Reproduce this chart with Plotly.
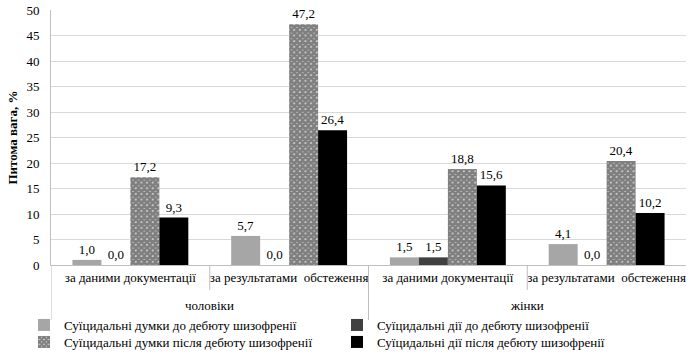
import plotly.graph_objects as go

inner_labels = ["за даними документації", "за результатами  обстеження",
                "за даними документації", "за результатами  обстеження"]
outer_labels = ["чоловіки", "жінки"]
series_names = [
    "Суїцидальні думки до дебюту шизофренії",
    "Суїцидальні дії до дебюту шизофренії",
    "Суїцидальні думки після дебюту шизофренії",
    "Суїцидальні дії після дебюту шизофренії",
]
thoughts_before = [1.0, 5.7, 1.5, 4.1]
actions_before = [0.0, 0.0, 1.5, 0.0]
thoughts_after = [17.2, 47.2, 18.8, 20.4]
actions_after = [9.3, 26.4, 15.6, 10.2]
y_ticks = [0, 5, 10, 15, 20, 25, 30, 35, 40, 45, 50]

FONT = "Times New Roman, Liberation Serif, serif"
W, H = 695, 358
xpos = list(range(len(inner_labels)))

def fmt(v):
    return f"{v:.1f}".replace(".", ",")

fig = go.Figure()
styles = [
    dict(color="#a6a6a6"),
    dict(color="#404040"),
    dict(color="white", pattern=dict(shape="x", fgcolor="black", bgcolor="white", size=4, solidity=0.9)),
    dict(color="black"),
]
legend_ids = ["legend", "legend", "legend2", "legend2"]
for name, vals, st, lg in zip(series_names, [thoughts_before, actions_before, thoughts_after, actions_after],
                              styles, legend_ids):
    fig.add_trace(go.Bar(
        x=xpos, y=vals, name=name, legend=lg,
        marker=dict(**st, line=dict(width=0)),
        text=[fmt(v) for v in vals], textposition="outside",
        textfont=dict(family=FONT, size=13, color="black"),
        cliponaxis=False,
    ))

# dividers
line_col = "#bfbfbf"
shapes = []
for xv, depth in [(0.5, -0.098), (2.5, -0.098), (1.5, -0.216), (-0.5, -0.216)]:
    shapes.append(dict(type="line", xref="x", yref="paper", x0=xv, x1=xv, y0=0, y1=depth,
                       line=dict(color=line_col, width=1)))

annotations = []
for i, lab in enumerate(outer_labels):
    annotations.append(dict(x=0.5 + 2 * i, y=-0.157, xref="x", yref="paper", text=lab,
                            showarrow=False, yanchor="middle",
                            font=dict(family=FONT, size=13, color="black")))

leg_common = dict(orientation="h", xref="container", yref="container",
                  x=24 / W, xanchor="left", yanchor="middle",
                  entrywidth=268, tracegroupgap=0, itemwidth=30,
                  bgcolor="rgba(0,0,0,0)",
                  font=dict(family=FONT, size=13, color="black"))

fig.update_layout(
    width=W, height=H,
    margin=dict(l=51, r=9, t=10, b=93, autoexpand=False),
    paper_bgcolor="white", plot_bgcolor="white",
    barmode="group", bargap=0.27, bargroupgap=0,
    font=dict(family=FONT, size=13, color="black"),
    shapes=shapes, annotations=annotations,
    legend=dict(**leg_common, y=1 - 325 / H),
    legend2=dict(**leg_common, y=1 - 342 / H),
    xaxis=dict(range=[-0.5, 3.5], tickvals=xpos, ticktext=inner_labels, automargin=False,
               showgrid=False, zeroline=False, showline=True, linecolor=line_col,
               tickfont=dict(family=FONT, size=13, color="black"), ticks=""),
    yaxis=dict(range=[0, 50], tickvals=y_ticks, showgrid=True, gridcolor="#d9d9d9", automargin=False,
               zeroline=False, showline=True, linecolor=line_col,
               ticklabelstandoff=8, ticklabeloverflow="allow",
               tickfont=dict(family=FONT, size=13, color="black"),
               title=dict(text="<b>Питома вага, %</b>", font=dict(family=FONT, size=13, color="black"),
                          standoff=5)),
)

fig.write_html("out.html", config={"displayModeBar": False},
               post_script="document.body.style.margin='0';")
